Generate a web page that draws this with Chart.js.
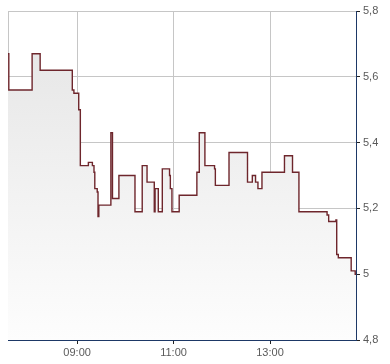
<!DOCTYPE html>
<html>
<head>
<meta charset="utf-8">
<script src="https://cdn.jsdelivr.net/npm/chart.js@4/dist/chart.umd.min.js"></script>
<style>
  html, body { margin: 0; padding: 0; background: #ffffff; }
  #wrap { width: 390px; height: 364px; position: relative; }
</style>
</head>
<body>
<div id="wrap"><canvas id="c" width="390" height="364"></canvas></div>
<script>
// ---- data ----
const times = [
  "07:34","07:35","08:04","08:14","08:54","08:56","09:02","09:04","09:14","09:19",
  "09:21","09:22","09:25","09:26","09:27","09:42","09:44","09:52","10:12","10:21",
  "10:27","10:36","10:37","10:41","10:46","10:55","10:56","10:58","11:07","11:29",
  "11:32","11:39","11:51","11:52","12:09","12:32","12:38","12:42","12:45","12:50",
  "13:18","13:28","13:36","14:11","14:13","14:22","14:23","14:25","14:41","14:46",
  "14:47"
];
const prices = [
  5.67, 5.56, 5.67, 5.62, 5.56, 5.55, 5.50, 5.33, 5.34, 5.33,
  5.31, 5.26, 5.25, 5.175, 5.21, 5.43, 5.23, 5.30, 5.19, 5.33,
  5.28, 5.19, 5.26, 5.19, 5.32, 5.30, 5.26, 5.19, 5.24, 5.31,
  5.43, 5.33, 5.32, 5.27, 5.37, 5.28, 5.30, 5.28, 5.26, 5.31,
  5.36, 5.31, 5.19, 5.18, 5.16, 5.165, 5.06, 5.05, 5.01, 5.00,
  5.00
];
const xTickLabels = ["09:00", "11:00", "13:00"];
const xMin = "07:34";
const xMax = "14:47";
const yMin = 4.8;
const yMax = 5.8;
const yStep = 0.2;

// ---- helpers ----
function toMin(s) { const p = s.split(":"); return (+p[0]) * 60 + (+p[1]); }
function toHHMM(m) {
  const h = Math.floor(m / 60), mm = Math.round(m - h * 60);
  return String(h).padStart(2, "0") + ":" + String(mm).padStart(2, "0");
}
const points = times.map((t, i) => ({ x: toMin(t), y: prices[i] }));
const xTickValues = xTickLabels.map(toMin);
const xMinV = toMin(xMin), xMaxV = toMin(xMax);

const AXIS = "#1d3866";
const GRID = "#c6c6c6";
const LINE = "#6e262c";
const TXT = "#5a5a5a";
const FONT = { family: "'Liberation Sans', Arial, sans-serif", size: 11 };

new Chart(document.getElementById("c"), {
  type: "line",
  data: {
    datasets: [{
      data: points,
      stepped: true,
      borderColor: LINE,
      borderWidth: 1.4,
      pointRadius: 0,
      pointHoverRadius: 0,
      fill: "start",
      backgroundColor: (ctx) => {
        const ch = ctx.chart, area = ch.chartArea;
        if (!area) return "rgba(235,235,235,1)";
        const g = ch.ctx.createLinearGradient(0, area.top, 0, area.bottom);
        g.addColorStop(0, "rgb(228,228,228)");
        g.addColorStop(1, "rgb(253,253,253)");
        return g;
      }
    }]
  },
  options: {
    responsive: false,
    animation: false,
    parsing: false,
    layout: { padding: { left: 8, top: 11, right: 0, bottom: 0 } },
    plugins: { legend: { display: false }, tooltip: { enabled: false } },
    scales: {
      x: {
        type: "linear",
        min: xMinV,
        max: xMaxV,
        afterBuildTicks: (scale) => {
          scale.ticks = [{ value: xMinV }].concat(xTickValues.map(v => ({ value: v })));
        },
        afterFit: (scale) => { scale.height = 24; },
        ticks: {
          autoSkip: false,
          maxRotation: 0,
          padding: 2,
          color: TXT,
          font: FONT,
          callback: (v) => (v === xMinV ? "" : toHHMM(v))
        },
        grid: {
          color: GRID,
          lineWidth: 1,
          drawTicks: true,
          tickLength: 4,
          tickColor: (ctx) => (ctx.tick && ctx.tick.value === xMinV ? "rgba(0,0,0,0)" : "#222"),
        },
        border: { display: true, color: AXIS, width: 1 }
      },
      y: {
        position: "right",
        min: yMin,
        max: yMax,
        afterFit: (scale) => { scale.width = 34; },
        ticks: {
          stepSize: yStep,
          padding: 3,
          color: TXT,
          font: FONT,
          callback: (v) => {
            let s = (Math.round(v * 10) / 10).toString();
            return s.replace(".", ",");
          }
        },
        grid: {
          color: GRID,
          lineWidth: 1,
          drawTicks: true,
          tickLength: 4,
          tickColor: "#222"
        },
        border: { display: true, color: AXIS, width: 1 }
      }
    }
  }
});
</script>
</body>
</html>
